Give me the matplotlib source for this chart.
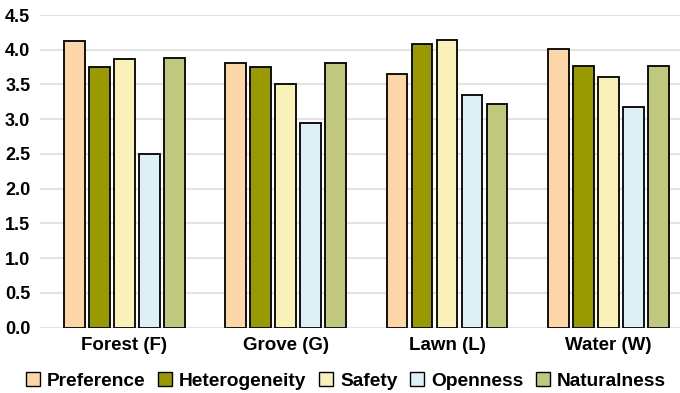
import matplotlib
matplotlib.use("Agg")
import matplotlib.pyplot as plt
import numpy as np
from matplotlib.patches import Patch

plt.rcParams['font.family'] = ['Liberation Sans', 'DejaVu Sans']
plt.rcParams['font.weight'] = 'bold'

categories = ["Forest (F)", "Grove (G)", "Lawn (L)", "Water (W)"]
series_names = ["Preference", "Heterogeneity", "Safety", "Openness", "Naturalness"]
preference = [4.13, 3.81, 3.65, 4.01]
heterogeneity = [3.75, 3.75, 4.08, 3.76]
safety = [3.87, 3.50, 4.14, 3.61]
openness = [2.50, 2.94, 3.35, 3.17]
naturalness = [3.88, 3.81, 3.22, 3.77]
yticks = [0.0, 0.5, 1.0, 1.5, 2.0, 2.5, 3.0, 3.5, 4.0, 4.5]

series = [preference, heterogeneity, safety, openness, naturalness]
colors = ["#FCD6A6", "#999900", "#FAF1B8", "#DDF0F6", "#BFC87C"]

fig = plt.figure(figsize=(6.8, 3.93), dpi=100)
ax = fig.add_axes([40/680, (393-327.5)/393, 640/680, (327.5-15)/393])

x = np.arange(len(categories))
bw = 0.128
step = 0.155
for i, (vals, c) in enumerate(zip(series, colors)):
    ax.bar(x + (i - 2) * step, vals, width=bw, color=c, edgecolor="black",
           linewidth=1.3, zorder=3, label=series_names[i])

ax.set_ylim(0, 4.5)
ax.set_xlim(-0.522, 3.443)
ax.set_yticks(yticks)
ax.set_yticklabels([f"{t:.1f}" for t in yticks], fontsize=13, fontweight='bold')
ax.set_xticks(x)
ax.set_xticklabels(categories, fontsize=13.5, fontweight='bold')
ax.tick_params(axis='both', length=0)
ax.tick_params(axis='y', pad=7)
ax.tick_params(axis='x', pad=7)
for s in ax.spines.values():
    s.set_visible(False)
ax.yaxis.grid(True, color="#E3E3E3", linewidth=1.5, zorder=0)
ax.set_axisbelow(True)

handles = [Patch(facecolor=c, edgecolor="black", linewidth=1.0) for c in colors]
fig.legend(handles, series_names, loc="center", bbox_to_anchor=(0.5 + 6/680, 1 - 381/393),
           ncol=5, frameon=False, handlelength=0.72, handleheight=0.72,
           handletextpad=0.36, columnspacing=0.68, prop={'weight': 'bold', 'size': 13.8})

fig.savefig("out.png", dpi=100)
